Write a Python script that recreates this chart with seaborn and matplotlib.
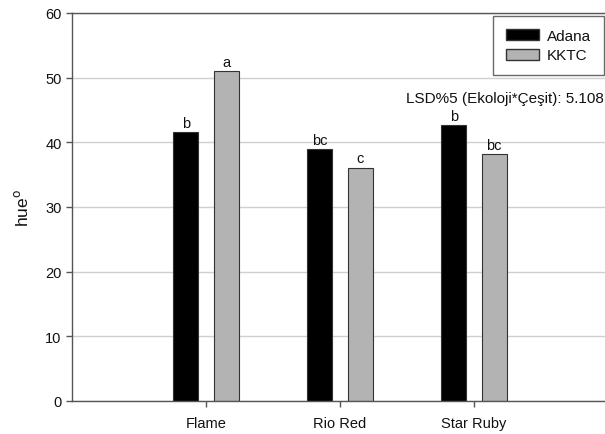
import pandas as pd
import matplotlib.pyplot as plt
import seaborn as sns
from matplotlib.patches import Patch

# ==========================
# Data
# ==========================

cultivars = ["Flame", "Rio Red", "Star Ruby"]
locations = ["Adana", "KKTC"]
adana_hue = [41.6, 38.9, 42.7]
kktc_hue = [51.0, 36.1, 38.2]
adana_letters = ["b", "bc", "b"]
kktc_letters = ["a", "c", "bc"]
colors = {"Adana": "#000000", "KKTC": "#b3b3b3"}

df = pd.DataFrame({
    "cultivar": cultivars * 2,
    "location": ["Adana"] * 3 + ["KKTC"] * 3,
    "hue": adana_hue + kktc_hue,
})

# ==========================
# Plot
# ==========================

sns.set_style("white")
plt.rcParams["font.family"] = ["Liberation Sans", "DejaVu Sans"]
plt.rcParams["text.color"] = "#111111"
plt.rcParams["xtick.color"] = "#111111"
plt.rcParams["ytick.color"] = "#111111"
plt.rcParams["axes.labelcolor"] = "#111111"

fig = plt.figure(figsize=(6.05, 4.35), dpi=100)
ax = fig.add_axes([72 / 605, 33 / 435, 536 / 605, 388 / 435])

sns.barplot(
    data=df,
    x="cultivar",
    y="hue",
    hue="location",
    hue_order=locations,
    order=cultivars,
    palette=colors,
    width=0.6,
    gap=0.38,
    edgecolor="#333333",
    linewidth=0.8,
    legend=False,
    ax=ax,
)

for container, letters in zip(ax.containers, [adana_letters, kktc_letters]):
    ax.bar_label(container, labels=letters, padding=1.5, fontsize=10.5)

ax.set_xlim(-1, 3)
ax.set_ylim(0, 60)
ax.set_yticks(range(0, 61, 10))
ax.yaxis.grid(True, color="#d0d0d0", linewidth=1)
ax.set_axisbelow(True)

for side in ["left", "bottom", "top"]:
    ax.spines[side].set_color("#555555")
    ax.spines[side].set_linewidth(1)
ax.spines["right"].set_visible(False)

ax.tick_params(axis="both", direction="out", length=4, width=1,
               color="#555555", labelsize=10.5, left=True, bottom=True)
ax.tick_params(axis="x", pad=7)

ax.set_xlabel("")
ax.set_ylabel("hue$^{\\mathrm{o}}$", fontsize=12.5, labelpad=10)

handles = [Patch(facecolor=colors[k], edgecolor="#333333", label=k) for k in locations]
leg = ax.legend(
    handles=handles,
    loc="upper right",
    bbox_to_anchor=(0.9925, 0.992),
    borderaxespad=0,
    frameon=True,
    fancybox=False,
    fontsize=11,
    handlelength=2.2,
    handleheight=0.75,
    labelspacing=0.35,
    borderpad=0.85,
    handletextpad=0.5,
)
leg.get_frame().set_edgecolor("#444444")
leg.get_frame().set_linewidth(1)

ax.text(0.992, 0.781, "LSD%5 (Ekoloji*Çeşit): 5.108", transform=ax.transAxes,
        ha="right", va="center", fontsize=11)

plt.savefig("out.png", dpi=100)
plt.close()
